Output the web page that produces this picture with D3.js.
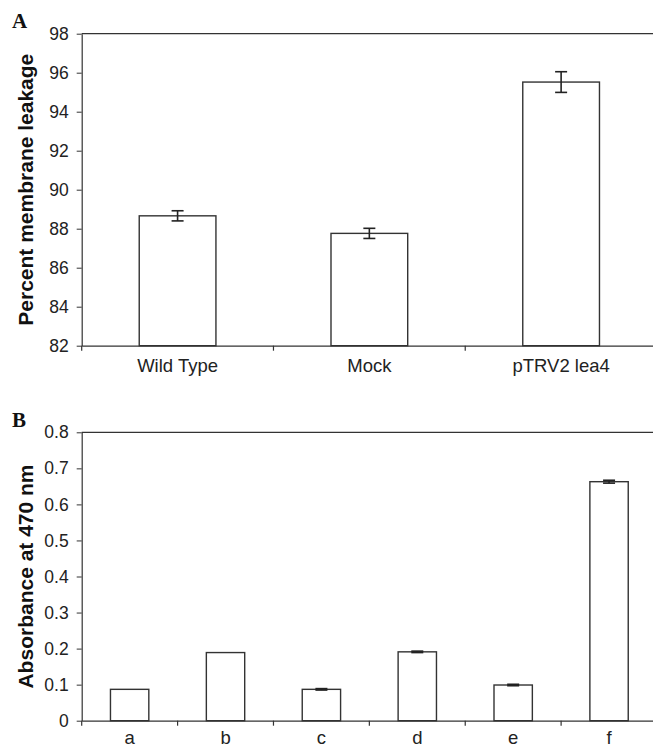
<!DOCTYPE html>
<html>
<head>
<meta charset="utf-8">
<script src="https://cdn.jsdelivr.net/npm/d3@7"></script>
<style>
  body { margin: 0; background: #fff; }
  svg { display: block; }
  .tick text { font-family: "Liberation Sans", Arial, sans-serif; fill: #222; }
  .domain, .tick line { stroke: #333; }
</style>
</head>
<body>
<svg id="fig" width="653" height="749"></svg>
<script>
// panel A - membrane leakage
var leakCats = ["Wild Type", "Mock", "pTRV2 lea4"],
    leakVals = [88.66, 87.76, 95.52],
    leakErr = [0.26, 0.26, 0.53],
    leakTicks = [82, 84, 86, 88, 90, 92, 94, 96, 98];

// panel B - absorbance
var absCats = ["a", "b", "c", "d", "e", "f"],
    absVals = [0.087, 0.189, 0.087, 0.191, 0.099, 0.663],
    absErr = [0, 0, 0.002, 0.002, 0.002, 0.004],
    absTicks = [0, 0.1, 0.2, 0.3, 0.4, 0.5, 0.6, 0.7, 0.8];

var svg = d3.select("#fig");

panel({
    letter: "A", letterY: 28,
    top: 33.7, bottom: 345.7, left: 81.7, right: 657,
    cats: leakCats, vals: leakVals, err: leakErr, ticks: leakTicks,
    domain: [82, 98], fmt: d3.format("d"), xPad: 13,
    title: "Percent membrane leakage"
});

panel({
    letter: "B", letterY: 426.5,
    top: 432.3, bottom: 720.7, left: 81.7, right: 657,
    cats: absCats, vals: absVals, err: absErr, ticks: absTicks,
    domain: [0, 0.8], fmt: function(d) { return d === 0 ? "0" : d3.format(".1f")(d); }, xPad: 10,
    title: "Absorbance at 470 nm"
});

function panel(p) {
    var x = d3.scaleBand().domain(p.cats).range([p.left, p.right]).paddingInner(0).paddingOuter(0),
        y = d3.scaleLinear().domain(p.domain).range([p.bottom, p.top]),
        barW = x.bandwidth() * 0.40,
        capW = 12;

    var g = svg.append("g");

    // top frame line
    g.append("line")
        .attr("x1", p.left).attr("x2", p.right)
        .attr("y1", y(p.domain[1])).attr("y2", y(p.domain[1]))
        .attr("stroke", "#333").attr("stroke-width", 1.2);

    // bars
    g.selectAll("rect.bar").data(p.vals)
        .enter().append("rect")
        .attr("class", "bar")
        .attr("x", function(d, i) { return x(p.cats[i]) + (x.bandwidth() - barW) / 2; })
        .attr("width", barW)
        .attr("y", function(d) { return y(d); })
        .attr("height", function(d) { return y(p.domain[0]) - y(d); })
        .attr("fill", "#fff")
        .attr("stroke", "#333")
        .attr("stroke-width", 1.4);

    // error bars
    var rows = p.vals.map(function(v, i) { return { cat: p.cats[i], v: v, e: p.err[i] }; })
        .filter(function(d) { return d.e > 0; });
    var eb = g.selectAll("g.err").data(rows)
        .enter().append("g")
        .attr("class", "err")
        .attr("transform", function(d) { return "translate(" + (x(d.cat) + x.bandwidth() / 2) + ",0)"; });

    eb.append("line")
        .attr("y1", function(d) { return y(d.v + d.e); })
        .attr("y2", function(d) { return y(d.v - d.e); })
        .attr("stroke", "#222").attr("stroke-width", 1.6);
    eb.append("line")
        .attr("x1", -capW / 2).attr("x2", capW / 2)
        .attr("y1", function(d) { return y(d.v + d.e); })
        .attr("y2", function(d) { return y(d.v + d.e); })
        .attr("stroke", "#222").attr("stroke-width", 1.6);
    eb.append("line")
        .attr("x1", -capW / 2).attr("x2", capW / 2)
        .attr("y1", function(d) { return y(d.v - d.e); })
        .attr("y2", function(d) { return y(d.v - d.e); })
        .attr("stroke", "#222").attr("stroke-width", 1.6);

    // y axis
    var ya = g.append("g")
        .attr("transform", "translate(" + p.left + ",0)")
        .call(d3.axisLeft(y).tickValues(p.ticks).tickFormat(p.fmt).tickSize(5).tickPadding(8).tickSizeOuter(0));
    ya.selectAll("text").attr("font-size", 17.5);
    ya.select(".domain").attr("stroke-width", 1.2);

    // x axis, ticks between categories
    var xa = g.append("g")
        .attr("transform", "translate(0," + p.bottom + ")")
        .call(d3.axisBottom(x).tickSize(0).tickPadding(p.xPad).tickSizeOuter(0));
    xa.selectAll("text").attr("font-size", 18.5);
    xa.select(".domain").attr("stroke-width", 1.2);
    xa.selectAll("line.sep").data(p.cats.slice(1))
        .enter().append("line")
        .attr("class", "sep")
        .attr("x1", function(d) { return x(d); }).attr("x2", function(d) { return x(d); })
        .attr("y1", 0).attr("y2", 5)
        .attr("stroke", "#333").attr("stroke-width", 1.2);
    xa.append("line")
        .attr("x1", p.left).attr("x2", p.left)
        .attr("y1", 0).attr("y2", 5)
        .attr("stroke", "#333").attr("stroke-width", 1.2);

    // axis title
    g.append("text")
        .attr("transform", "translate(33," + ((p.top + p.bottom) / 2) + ") rotate(-90)")
        .attr("text-anchor", "middle")
        .attr("font-family", "Liberation Sans, Arial, sans-serif")
        .attr("font-weight", "bold")
        .attr("font-size", 21)
        .attr("fill", "#111")
        .text(p.title);

    // panel letter
    g.append("text")
        .attr("x", 12).attr("y", p.letterY)
        .attr("font-family", "Liberation Serif, Times New Roman, serif")
        .attr("font-weight", "bold")
        .attr("font-size", 21)
        .attr("fill", "#111")
        .text(p.letter);
}
</script>
</body>
</html>
